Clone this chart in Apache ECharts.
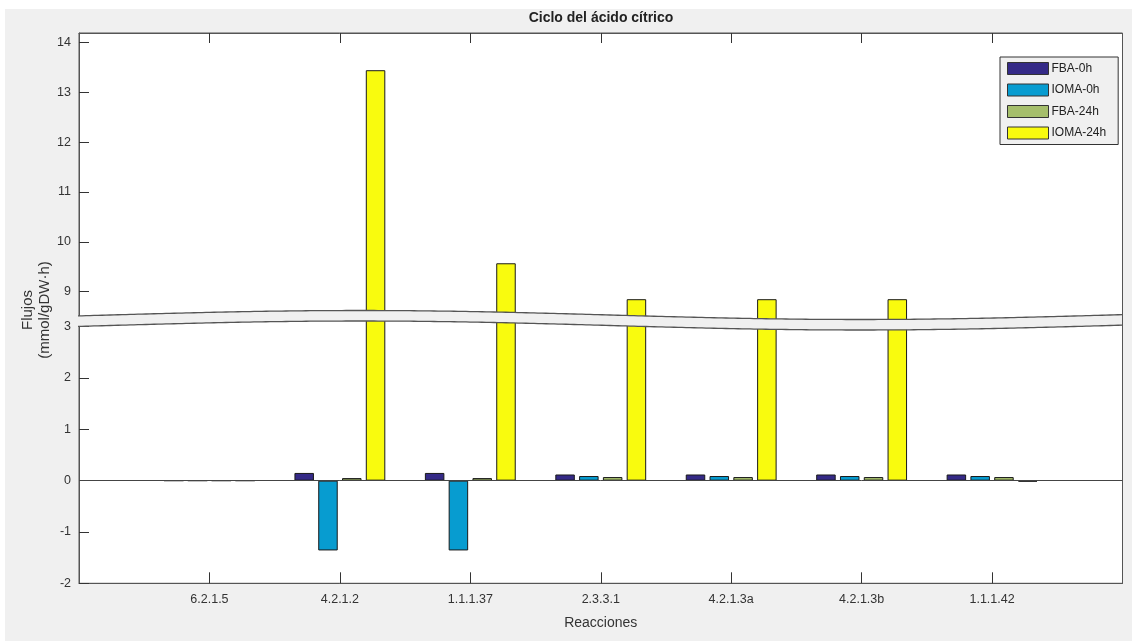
<!DOCTYPE html>
<html>
<head>
<meta charset="utf-8">
<script src="https://cdn.jsdelivr.net/npm/echarts@6/dist/echarts.min.js"></script>
<style>
  html, body { margin: 0; padding: 0; background: #ffffff; }
  #frame { position: absolute; left: 5px; top: 9px; right: 0; bottom: 0; background: #f0f0f0; }
  #chart { position: absolute; left: 0; top: 0; width: 1132px; height: 641px; }
</style>
</head>
<body>
<div id="frame"></div>
<div id="chart"></div>
<script>
// Reactions of the citric acid cycle and their fluxes (mmol/gDW·h)
const reactions = ['6.2.1.5', '4.2.1.2', '1.1.1.37', '2.3.3.1', '4.2.1.3a', '4.2.1.3b', '1.1.1.42'];
const seriesNames = ['FBA-0h', 'IOMA-0h', 'FBA-24h', 'IOMA-24h'];
const fba0h   = [0, 0.15, 0.15, 0.12, 0.12, 0.12, 0.12];
const ioma0h  = [0, -1.36, -1.36, 0.09, 0.09, 0.09, 0.09];
const fba24h  = [0, 0.05, 0.05, 0.07, 0.07, 0.07, 0.07];
const ioma24h = [0, 13.44, 9.57, 8.85, 8.85, 8.85, -0.02];
const upperTicks = [9, 10, 11, 12, 13, 14];
const lowerTicks = [-2, -1, 0, 1, 2, 3];

const seriesValues = [fba0h, ioma0h, fba24h, ioma24h];
const colors = ['#352a87', '#079cd0', '#a5be6b', '#f9fb0e'];

// category slots: an empty slot at each end so the reactions sit one step in from the frame
const slots = [''].concat(reactions, ['']);
const pad = arr => [null].concat(arr, [null]);

const FONT = '"Liberation Sans", Arial, Helvetica, sans-serif';
const AXIS_COLOR = '#555';
const TEXT_COLOR = '#333';

// plot frame (px)
const plotLeft = 79, plotRight = 1122.5, plotTop = 33, plotBottom = 583.3, breakY = 320;

const chart = echarts.init(document.getElementById('chart'), null, { renderer: 'canvas' });

function xAxisFor(gridIndex, position, showLabels) {
  return {
    type: 'category', gridIndex: gridIndex, position: position, data: slots, boundaryGap: false,
    axisLine: { show: true, onZero: false, lineStyle: { color: AXIS_COLOR, width: 1 } },
    axisTick: { show: true, inside: true, length: position === 'top' ? 10 : 11,
      interval: (i) => i > 0 && i < slots.length - 1, lineStyle: { color: '#333' } },
    axisLabel: { show: showLabels, margin: 10, color: TEXT_COLOR, fontSize: 12.5, fontFamily: FONT,
      interval: 0 },
    splitLine: { show: false },
    name: showLabels ? 'Reacciones' : '', nameLocation: 'middle', nameGap: 33,
    nameTextStyle: { color: TEXT_COLOR, fontSize: 14, fontFamily: FONT }
  };
}

function yAxisFor(gridIndex, min, max, ticks) {
  return {
    type: 'value', gridIndex: gridIndex, min: min, max: max,
    axisLine: { show: true, lineStyle: { color: AXIS_COLOR, width: 1 } },
    axisTick: { show: true, inside: true, length: 10, customValues: ticks, lineStyle: { color: '#333' } },
    axisLabel: { show: true, margin: 8, color: TEXT_COLOR, fontSize: 12.5, fontFamily: FONT, customValues: ticks },
    splitLine: { show: false }
  };
}

const series = [];
[0, 1].forEach(function (g) {
  seriesValues.forEach(function (vals, k) {
    const s = {
      name: seriesNames[k], type: 'bar', xAxisIndex: g, yAxisIndex: g,
      data: pad(vals), barWidth: 19.5, barGap: '22%', clip: true,
      itemStyle: { color: colors[k], borderColor: '#1a1a1a', borderWidth: 1 },
      emphasis: { disabled: true }
    };
    if (g === 1 && k === 0) {
      // baseline at zero across the whole frame
      s.markLine = {
        silent: true, symbol: 'none', label: { show: false },
        lineStyle: { color: '#444', width: 1, type: 'solid' },
        data: [{ yAxis: 0 }]
      };
    }
    series.push(s);
  });
});

// wavy break band between the two value ranges
function bandTop(x) { return 315 - 4.5 * Math.sin(2 * Math.PI * (x - 110) / 1000); }
const bandH = 10.5;
const topPts = [], botPts = [];
for (let x = plotLeft - 1; x <= plotRight + 1.5; x += 4) {
  topPts.push([x, bandTop(x)]);
  botPts.push([x, bandTop(x) + bandH]);
}
const bandPoly = topPts.concat(botPts.slice().reverse());

const option = {
  animation: false,
  backgroundColor: 'transparent',
  title: {
    text: 'Ciclo del ácido cítrico', left: 601, top: 11, padding: 0, textAlign: 'center',
    textStyle: { fontSize: 14, fontWeight: 'bold', color: '#222', fontFamily: FONT }
  },
  legend: {
    orient: 'vertical', left: 1000, top: 57, padding: [5, 12, 5, 7],
    data: seriesNames, icon: 'rect', itemWidth: 41, itemHeight: 12, itemGap: 8.5,
    backgroundColor: '#f0f0f0', borderColor: '#333', borderWidth: 1, borderRadius: 0,
    selectedMode: false,
    itemStyle: { borderColor: '#333', borderWidth: 1 },
    textStyle: { fontSize: 12, color: '#222', fontFamily: FONT, padding: [0, 0, 0, -2] }
  },
  grid: [
    { left: plotLeft, top: plotTop, width: plotRight - plotLeft, height: breakY - plotTop,
      show: true, backgroundColor: '#ffffff', borderColor: AXIS_COLOR, borderWidth: 1 },
    { left: plotLeft, top: breakY, width: plotRight - plotLeft, height: plotBottom - breakY,
      show: true, backgroundColor: '#ffffff', borderColor: AXIS_COLOR, borderWidth: 1 }
  ],
  xAxis: [xAxisFor(0, 'top', false), xAxisFor(1, 'bottom', true)],
  yAxis: [yAxisFor(0, 8.433, 14.186, upperTicks), yAxisFor(1, -2, 3.13, lowerTicks)],
  series: series,
  graphic: [
    { type: 'polygon', silent: true, z: 100, shape: { points: bandPoly },
      style: { fill: '#f0f0f0', stroke: null } },
    { type: 'polyline', silent: true, z: 101, shape: { points: topPts },
      style: { stroke: '#555', lineWidth: 1.3, fill: null } },
    { type: 'polyline', silent: true, z: 101, shape: { points: botPts },
      style: { stroke: '#555', lineWidth: 1.3, fill: null } },
    { type: 'text', silent: true, x: 36, y: 310, rotation: Math.PI / 2,
      style: { text: 'Flujos\n(mmol/gDW·h)', fontSize: 15, fontFamily: FONT, fill: TEXT_COLOR,
        align: 'center', verticalAlign: 'middle', lineHeight: 17 } }
  ]
};

chart.setOption(option);
</script>
</body>
</html>
